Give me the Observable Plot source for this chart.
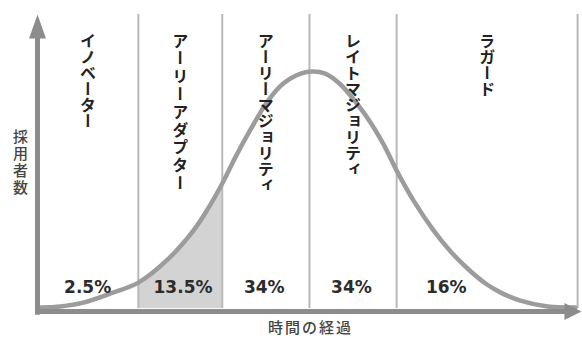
<!DOCTYPE html>
<html>
<head>
<meta charset="utf-8">
<script src="https://cdn.jsdelivr.net/npm/d3@7"></script>
<script src="https://cdn.jsdelivr.net/npm/@observablehq/plot@0.6"></script>
<style>
  html, body { margin: 0; padding: 0; background: #fff; }
</style>
</head>
<body>
<div id="chart"></div>
<script>
// ---- data (time axis 0–100, adopters 0–100) ----
const segments = ["イノベーター", "アーリーアダプター", "アーリーマジョリティ", "レイトマジョリティ", "ラガード"];
const shares = ["2.5%", "13.5%", "34%", "34%", "16%"];
const boundaries = [0, 18.5, 33.9, 49.9, 65.9, 99.1];
const shareAt = [9.2, 26.7, 41.6, 57.6, 75.0];
const curveX = [0.55, 4.2, 8.4, 13.4, 18.5, 23.9, 28.6, 31.2, 33.9, 36.3, 39.1, 42.2, 45.1, 48.3, 50.5, 52.8, 55.6, 58.3, 61.1, 63.5, 65.9, 69.0, 72.7, 75.8, 78.9, 82.2, 85.0, 88.6, 93.6, 98.7];
const curveY = [0.34, 0.7, 2.0, 5.1, 8.8, 16.7, 26.5, 33.7, 42.5, 51.4, 60.9, 70.4, 76.5, 79.9, 80.6, 79.9, 76.2, 70.4, 63.3, 55.8, 46.9, 36.7, 26.5, 19.4, 13.6, 8.5, 5.4, 2.7, 0.7, 0.3];
const yLabel = "採用者数";
const xLabel = "時間の経過";

const curve = curveX.map((x, i) => ({x, y: curveY[i]}));
const shaded = curve.filter(d => d.x >= boundaries[1] && d.x <= boundaries[2]);
const labelData = segments.map((s, i) => ({s, x: (boundaries[i] + boundaries[i + 1]) / 2}));
const shareData = shares.map((s, i) => ({s, x: shareAt[i]}));

const arrowUp = {draw(ctx) { ctx.moveTo(0, 0); ctx.lineTo(8.5, 24); ctx.lineTo(-8.5, 24); ctx.closePath(); }};
const arrowRight = {draw(ctx) { ctx.moveTo(0, 0); ctx.lineTo(-17, 8.5); ctx.lineTo(-17, -8.5); ctx.closePath(); }};

const axisColor = "#8c8c8c";

const chart = Plot.plot({
  width: 582,
  height: 338,
  marginLeft: 37,
  marginRight: 0,
  marginTop: 14,
  marginBottom: 30,
  x: {domain: [0, 100], axis: null},
  y: {domain: [0, 100], axis: null},
  style: {background: "white", overflow: "visible"},
  marks: [
    Plot.areaY(shaded, {x: "x", y: "y", curve: "catmull-rom", fill: "#d3d3d3"}),
    Plot.ruleX(boundaries.slice(1), {y1: 0, y2: 100, stroke: "#b8b8b8", strokeWidth: 2}),
    Plot.line(curve, {x: "x", y: "y", curve: "catmull-rom", stroke: "#9c9c9c", strokeWidth: 4.5}),
    // axes with arrowheads
    Plot.ruleY([-1], {x1: -0.3, x2: 97, stroke: axisColor, strokeWidth: 5}),
    Plot.ruleX([0], {y1: -2.3, y2: 92, stroke: axisColor, strokeWidth: 5}),
    Plot.dot([{x: 99.8, y: -1}], {x: "x", y: "y", symbol: arrowRight, fill: axisColor, stroke: null}),
    Plot.dot([{x: 0, y: 100}], {x: "x", y: "y", symbol: arrowUp, fill: axisColor, stroke: null}),
    // segment names (vertical)
    Plot.text(labelData, {x: "x", y: 93.9, text: "s", textAnchor: "start", lineAnchor: "bottom",
      fontSize: 16, fontWeight: 700, fill: "#222", fontFamily: "Noto Sans CJK JP"}),
    // shares
    Plot.text(shareData, {x: "x", y: 7.1, text: "s", fontSize: 17, fontWeight: 700, fill: "#2b2b2b",
      fontFamily: "DejaVu Sans"}),
    // axis titles
    Plot.text([yLabel], {x: -3.1, y: 61.2, text: d => d, textAnchor: "start", lineAnchor: "bottom",
      fontSize: 15, fontWeight: 500, fill: "#444", fontFamily: "Noto Sans CJK JP"}),
    Plot.text([xLabel], {x: 50.1, y: -6.8, text: d => d, fontSize: 15, fontWeight: 500, fill: "#444",
      fontFamily: "Noto Sans CJK JP"})
  ]
});

chart.querySelectorAll("text").forEach(t => {
  const s = t.textContent;
  if (segments.includes(s) || s === yLabel) {
    t.style.writingMode = "vertical-rl";
    t.style.textOrientation = "mixed";
    t.removeAttribute("y");
    if (s === "アーリーアダプター") t.style.letterSpacing = "1.8px";
    if (s === yLabel) t.style.letterSpacing = "2px";
  }
  if (s === xLabel) t.style.letterSpacing = "2px";
});

document.getElementById("chart").append(chart);
</script>
</body>
</html>
